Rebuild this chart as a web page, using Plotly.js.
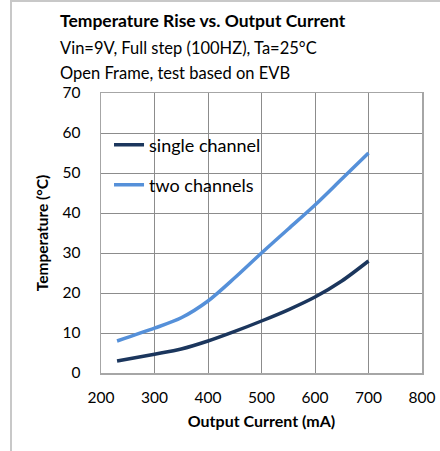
<!DOCTYPE html>
<html><head><meta charset="utf-8">
<script src="https://cdn.plot.ly/plotly-3.0.1.min.js"></script>
<style>
html,body{margin:0;padding:0;background:#fff;}
#frame{position:absolute;left:0;top:0;width:440px;height:451px;}
#edge{position:absolute;left:10px;top:0px;width:430px;height:451px;border-left:2px solid #c8c8c8;border-top:2px solid #c8c8c8;box-sizing:border-box;pointer-events:none;}
#chart{position:absolute;left:0;top:0;width:440px;height:451px;}
</style></head><body>
<div id="frame"><div id="chart"></div><div id="edge"></div></div>
<script>
const current = [230, 300, 350, 400, 450, 500, 550, 600, 650, 700];
const singleChannel = [3, 4.7, 6, 8, 10.4, 13, 15.8, 19, 23, 28];
const twoChannels = [8, 11.2, 13.8, 18, 23.8, 30, 36, 42, 48.5, 55];
const seriesNames = ["single channel", "two channels"];
const xTicks = [200, 300, 400, 500, 600, 700, 800];
const yTicks = [0, 10, 20, 30, 40, 50, 60, 70];

const font = "Lato, 'Open Sans', sans-serif";
const traces = [
  {x: current, y: singleChannel, name: seriesNames[0], mode: "lines", legend: "legend",
   line: {color: "#1b365d", width: 3.5, shape: "spline", smoothing: 0.8}},
  {x: current, y: twoChannels, name: seriesNames[1], mode: "lines", legend: "legend2",
   line: {color: "#5590d9", width: 3.5, shape: "spline", smoothing: 0.8}}
];
const legendBase = {xanchor: "left", yanchor: "middle", bgcolor: "rgba(0,0,0,0)",
  font: {size: 18, family: font}, itemwidth: 30};
const layout = {
  width: 440, height: 451,
  margin: {l: 101, r: 18, t: 93, b: 78},
  paper_bgcolor: "rgba(0,0,0,0)", plot_bgcolor: "#fff",
  font: {family: font, color: "#000", size: 15},
  showlegend: true,
  legend: Object.assign({x: 0.025, y: 1 - 52/280}, legendBase),
  legend2: Object.assign({x: 0.025, y: 1 - 92/280}, legendBase),
  xaxis: {range: [200, 800], tickvals: xTicks, ticktext: xTicks.map(String),
          showgrid: true, gridcolor: "#8c8c8c", gridwidth: 1,
          showline: true, linecolor: "#a6a6a6", linewidth: 1.5, mirror: true,
          zeroline: false, ticks: "", ticklabelstandoff: 10,
          tickfont: {size: 15.5},
          title: {text: "<b>Output Current (mA)</b>", font: {size: 16}, standoff: 10}},
  yaxis: {range: [0, 70], tickvals: yTicks, ticktext: yTicks.map(String),
          showgrid: true, gridcolor: "#8c8c8c", gridwidth: 1,
          showline: true, linecolor: "#a6a6a6", linewidth: 1.5, mirror: true,
          zeroline: false, ticks: "", ticklabelstandoff: 16,
          tickfont: {size: 15.5},
          title: {text: "<b>Temperature (°C)</b>", font: {size: 15.5}, standoff: 10}},
  annotations: [
    {text: "<b>Temperature Rise vs. Output Current</b>", xref: "paper", yref: "paper",
     x: -0.135, y: 1 + 73/280, xanchor: "left", yanchor: "middle", showarrow: false,
     font: {size: 17.5}},
    {text: "Vin=9V, Full step (100HZ), Ta=25°C", xref: "paper", yref: "paper",
     x: -0.135, y: 1 + 45/280, xanchor: "left", yanchor: "middle", showarrow: false,
     font: {size: 16.5}},
    {text: "Open Frame, test based on EVB", xref: "paper", yref: "paper",
     x: -0.135, y: 1 + 20/280, xanchor: "left", yanchor: "middle", showarrow: false,
     font: {size: 16.5}}
  ]
};
Plotly.newPlot("chart", traces, layout, {displayModeBar: false, staticPlot: true});
</script></body></html>
